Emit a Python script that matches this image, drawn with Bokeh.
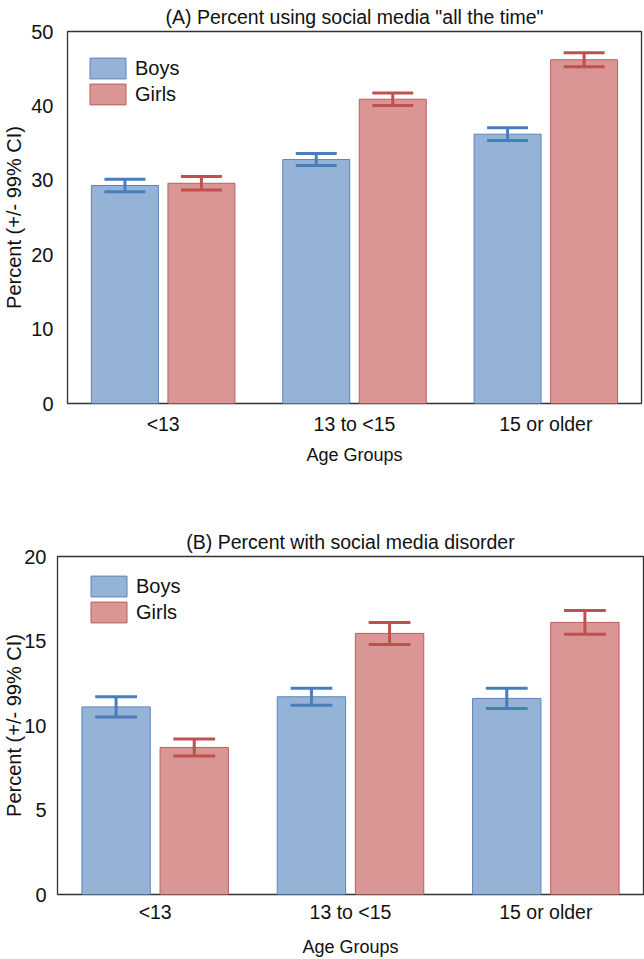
from bokeh.plotting import figure
from bokeh.models import ColumnDataSource, FactorRange, FixedTicker, Legend, LegendItem
from bokeh.transform import dodge
from bokeh.embed import file_html
from bokeh.resources import INLINE

groups = ["<13", "13 to <15", "15 or older"]

# (A) percent using social media "all the time"
all_time_boys = [29.3, 32.8, 36.2]
all_time_boys_ci = [0.85, 0.8, 0.85]
all_time_girls = [29.6, 40.9, 46.2]
all_time_girls_ci = [0.9, 0.85, 0.95]

# (B) percent with social media disorder
disorder_boys = [11.1, 11.7, 11.6]
disorder_boys_ci = [0.6, 0.5, 0.6]
disorder_girls = [8.7, 15.45, 16.1]
disorder_girls_ci = [0.5, 0.65, 0.7]

ticks_a = [0, 10, 20, 30, 40, 50]
ticks_b = [0, 5, 10, 15, 20]

FONT = "Liberation Sans"
fills = {"Boys": "#95b3d7", "Girls": "#d99694"}
edges = {"Boys": "#5b84ba", "Girls": "#b95f5d"}
errs = {"Boys": "#4a7ebb", "Girls": "#c0504d"}
offsets = {"Boys": -0.2, "Girls": 0.2}


def make_panel(title, boys, boys_ci, girls, girls_ci, ticks, height,
               border_left, border_right, border_bottom, title_standoff,
               y_standoff, y_label_standoff, x_standoff, x_label_standoff,
               legend_xy):
    p = figure(x_range=FactorRange(factors=groups, range_padding=0),
               y_range=(ticks[0], ticks[-1]), width=644, height=height,
               title=title, toolbar_location=None, output_backend="svg",
               min_border_left=border_left, min_border_right=border_right,
               min_border_top=30, min_border_bottom=border_bottom)
    p.title.align = "center"
    p.title.text_font = FONT
    p.title.text_font_size = "19.5px"
    p.title.text_font_style = "normal"
    p.title.text_color = "#111111"
    p.title.standoff = title_standoff
    p.title.offset = 0

    items = []
    for name, vals, ci in (("Boys", boys, boys_ci), ("Girls", girls, girls_ci)):
        src = ColumnDataSource(dict(
            group=groups, val=vals,
            lo=[v - c for v, c in zip(vals, ci)],
            hi=[v + c for v, c in zip(vals, ci)]))
        off = offsets[name]
        r = p.vbar(x=dodge("group", off, range=p.x_range), top="val", width=0.35,
                   source=src, fill_color=fills[name], line_color=edges[name],
                   line_width=1)
        p.segment(x0=dodge("group", off, range=p.x_range), y0="lo",
                  x1=dodge("group", off, range=p.x_range), y1="hi",
                  source=src, line_color=errs[name], line_width=3)
        for end in ("lo", "hi"):
            p.segment(x0=dodge("group", off - 0.107, range=p.x_range), y0=end,
                      x1=dodge("group", off + 0.107, range=p.x_range), y1=end,
                      source=src, line_color=errs[name], line_width=3)
        items.append(LegendItem(label=name, renderers=[r]))

    legend = Legend(items=items, location=legend_xy, margin=0, padding=0,
                    spacing=0, glyph_width=45, glyph_height=26, label_height=26,
                    label_standoff=5, label_text_font=FONT,
                    label_text_font_size="20px", label_text_color="#111111",
                    border_line_color=None, background_fill_alpha=0)
    p.add_layout(legend)

    p.yaxis.ticker = FixedTicker(ticks=ticks)
    p.yaxis.axis_label = "Percent (+/- 99% CI)"
    p.xaxis.axis_label = "Age Groups"
    for ax in (p.xaxis[0], p.yaxis[0]):
        ax.axis_line_color = None
        ax.major_tick_line_color = None
        ax.minor_tick_line_color = None
        ax.major_label_text_font = FONT
        ax.major_label_text_color = "#111111"
        ax.axis_label_text_font = FONT
        ax.axis_label_text_font_style = "normal"
        ax.axis_label_text_color = "#111111"
    p.xaxis.major_label_text_font_size = "19.5px"
    p.yaxis.major_label_text_font_size = "20px"
    p.xaxis.axis_label_text_font_size = "18px"
    p.yaxis.axis_label_text_font_size = "20px"
    p.yaxis.major_label_standoff = y_standoff
    p.yaxis.axis_label_standoff = y_label_standoff
    p.xaxis.major_label_standoff = x_standoff
    p.xaxis.axis_label_standoff = x_label_standoff

    p.xgrid.grid_line_color = None
    p.ygrid.grid_line_color = None
    p.outline_line_color = "#333333"
    p.outline_line_width = 1.3
    p.background_fill_color = "white"
    p.border_fill_color = "white"
    return p


pa = make_panel('(A) Percent using social media "all the time"',
                all_time_boys, all_time_boys_ci, all_time_girls, all_time_girls_ci,
                ticks_a, 525, 66, 3, 122, 7, 8, 3, 3, 7, (18, 296))
pb = make_panel("(B) Percent with social media disorder",
                disorder_boys, disorder_boys_ci, disorder_girls, disorder_girls_ci,
                ticks_b, 434, 54, 1, 64, 7, 5, -4, 0, 11, (29, 269))

# two separate roots so the frames are not forced into alignment
open("out.html", "w").write(file_html([pa, pb], INLINE))
